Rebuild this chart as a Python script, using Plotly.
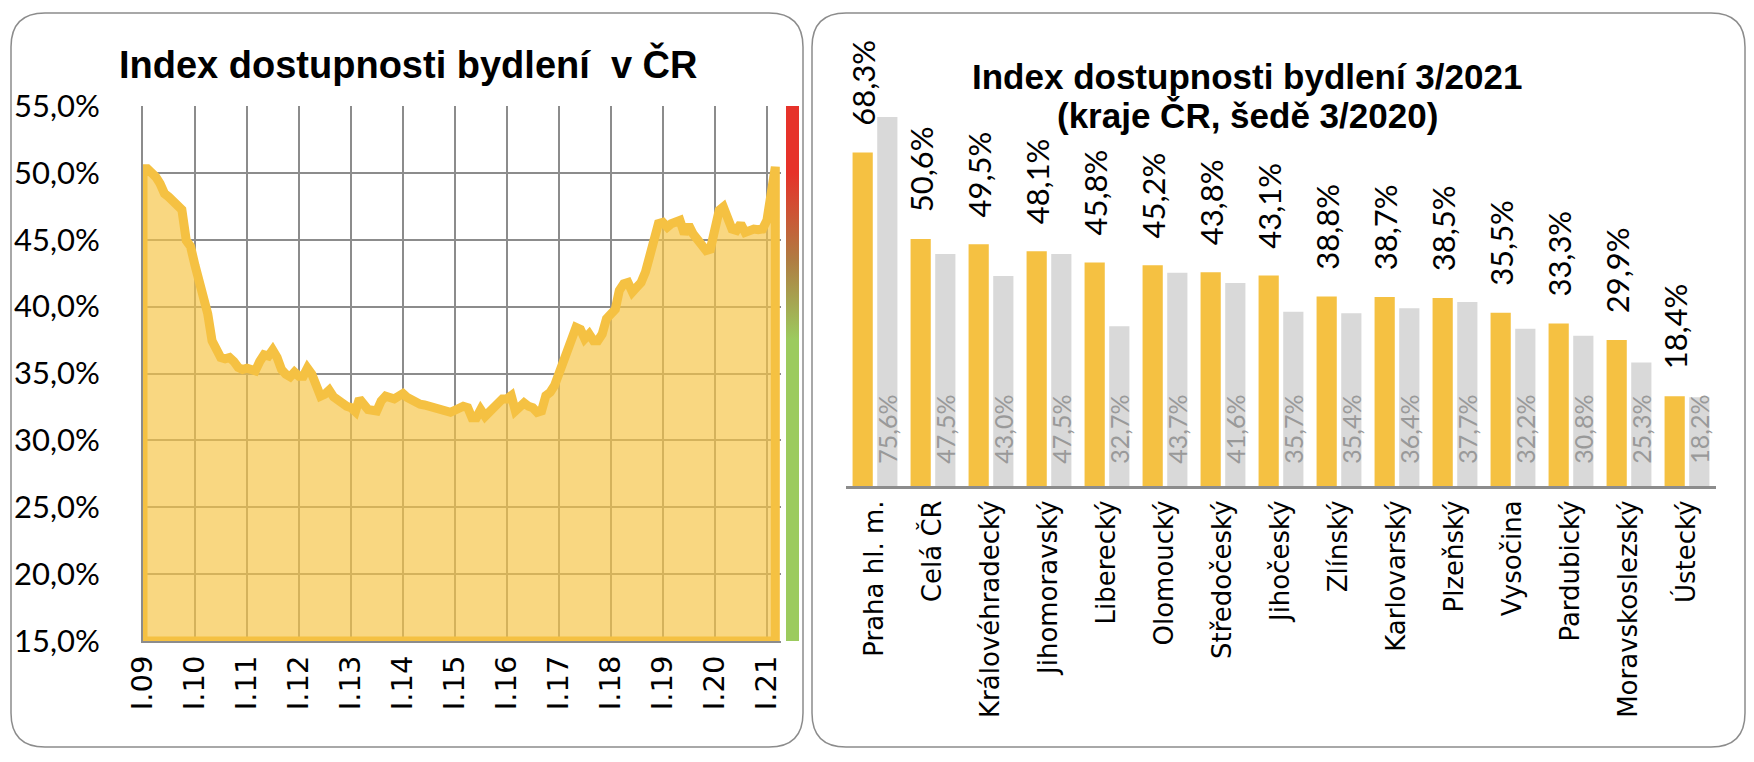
import pandas as pd
import plotly.graph_objects as go

# --- left chart: monthly housing affordability index, I.2009 - III.2021 (%)
START_MONTH = "2009-01-01"
INDEX_VALUES = [
    50.3, 50.3, 50.1, 49.7, 49.2, 48.45, 48.2, 47.8, 47.45, 47.25, 44.95, 44.5,   # 2009
    43.1, 41.7, 41.15, 39.45, 37.45, 36.6, 36.2, 36.1, 36.2, 35.9, 35.45, 35.3,   # 2010
    35.4, 35.3, 35.2, 35.9, 36.4, 36.3, 36.75, 36.2, 35.3, 34.95, 34.75, 35.1,    # 2011
    34.8, 34.8, 35.4, 34.95, 34.2, 33.3, 33.45, 33.75, 33.25, 32.95, 32.8, 32.55, # 2012
    32.45, 32.15, 33.1, 32.55, 32.3, 32.25, 32.2, 32.95, 33.3, 33.2, 33.1, 33.3,  # 2013
    33.5, 33.2, 33.0, 32.8, 32.7, 32.65, 32.55, 32.45, 32.5, 32.4, 32.25, 32.1,   # 2014
    32.25, 32.45, 32.55, 32.45, 31.7, 31.7, 32.3, 31.8, 32.1, 32.3, 32.7, 33.1,   # 2015
    33.1, 33.35, 32.2, 32.45, 32.8, 32.55, 32.45, 32.1, 32.2, 33.35, 33.6, 34.1,  # 2016
    34.95, 35.7, 36.6, 37.6, 38.45, 38.3, 37.6, 37.95, 37.45, 37.45, 37.95, 39.1, # 2017
    39.6, 39.8, 41.2, 41.7, 41.8, 41.1, 41.45, 41.8, 42.6, 43.95, 45.2, 46.2,     # 2018
    46.3, 45.95, 46.2, 46.3, 46.45, 45.45, 46.1, 45.45, 44.95, 44.6, 44.2, 44.3,  # 2019
    45.7, 47.2, 47.45, 46.8, 45.8, 45.7, 46.2, 45.55, 45.7, 45.8, 45.75, 45.8,    # 2020
    46.45, 48.45, 50.45,                                                          # 2021
]
YEAR_LABELS = ["I.09", "I.10", "I.11", "I.12", "I.13", "I.14", "I.15",
               "I.16", "I.17", "I.18", "I.19", "I.20", "I.21"]
Y_MIN, Y_MAX = 15, 55

# colour strip next to the left chart (green = affordable, red = not)
GRADIENT_VALUES = [15, 37.5, 43.5, 50, 55]
GRADIENT_COLORS = ["#9ccb5e", "#9ccb5e", "#b07c42", "#e6322a", "#e6322a"]

# --- right chart: regions 3/2021 vs 3/2020 (%)
REGIONS = ["Praha hl. m.", "Celá ČR", "Královéhradecký", "Jihomoravský", "Liberecký",
           "Olomoucký", "Středočeský", "Jihočeský", "Zlínský", "Karlovarský",
           "Plzeňský", "Vysočina", "Pardubický", "Moravskoslezský", "Ústecký"]
VALUES_2021 = [68.3, 50.6, 49.5, 48.1, 45.8, 45.2, 43.8, 43.1, 38.8, 38.7,
               38.5, 35.5, 33.3, 29.9, 18.4]
VALUES_2020 = [75.6, 47.5, 43.0, 47.5, 32.7, 43.7, 41.6, 35.7, 35.4, 36.4,
               37.7, 32.2, 30.8, 25.3, 18.2]

W, H = 1754, 762
PAGE_MARGIN = 8  # default body margin of the html page
ORANGE = "#f5c142"
GRID = "#8c8c8c"
TITLE_FONT = "Liberation Sans, Arial, sans-serif"
CALIBRI_LIKE = "Lato, Open Sans, sans-serif"
NBSP = "\u00a0"


def px_x(p):
    return (p - PAGE_MARGIN) / W


def px_y(p):
    return 1 - (p - PAGE_MARGIN) / H


def rounded_rect(x0, y0, x1, y1, r):
    """SVG path of a rounded rectangle in paper coordinates (input in pixels)."""
    rx, ry = r / W, r / H
    a, b, c, d = px_x(x0), px_x(x1), px_y(y1), px_y(y0)
    return (f"M {a + rx},{d} L {b - rx},{d} Q {b},{d} {b},{d - ry} "
            f"L {b},{c + ry} Q {b},{c} {b - rx},{c} L {a + rx},{c} "
            f"Q {a},{c} {a},{c + ry} L {a},{d - ry} Q {a},{d} {a + rx},{d} Z")


dates = pd.date_range(START_MONTH, periods=len(INDEX_VALUES), freq="MS")
year_ticks = pd.date_range(START_MONTH, periods=len(YEAR_LABELS), freq="YS")

# closed outline so the border runs down to the axis minimum like the Excel area
area_x = [dates[0], *dates, dates[-1], dates[0]]
area_y = [Y_MIN, *INDEX_VALUES, Y_MIN, Y_MIN]

fig = go.Figure()

fig.add_trace(go.Scatter(
    x=area_x, y=area_y, mode="lines", fill="toself",
    fillcolor="rgba(246,196,70,0.68)",
    line=dict(color=ORANGE, width=9),
    hoverinfo="skip", showlegend=False,
))

scale = [[(v - Y_MIN) / (Y_MAX - Y_MIN), c] for v, c in zip(GRADIENT_VALUES, GRADIENT_COLORS)]
fig.add_trace(go.Scatter(
    x=[None], y=[None], mode="markers", showlegend=False, hoverinfo="skip",
    marker=dict(
        color=[Y_MIN], cmin=Y_MIN, cmax=Y_MAX, colorscale=scale, showscale=True,
        colorbar=dict(
            x=px_x(786), xanchor="left", xpad=0, thickness=13, thicknessmode="pixels",
            y=(px_y(106) + px_y(641)) / 2, yanchor="middle", ypad=0,
            len=535, lenmode="pixels", outlinewidth=0,
            showticklabels=False, ticks="",
        ),
    ),
))

fig.add_trace(go.Bar(
    x=REGIONS, y=VALUES_2021, xaxis="x2", yaxis="y2", name="3/2021",
    marker=dict(color=ORANGE, line=dict(width=0)),
    texttemplate=NBSP * 3 + "%{y:.1f}%", textposition="outside", textangle=-90,
    outsidetextfont=dict(family=CALIBRI_LIKE, size=31, color="black"),
    constraintext="none", cliponaxis=False, showlegend=False,
))
fig.add_trace(go.Bar(
    x=REGIONS, y=VALUES_2020, xaxis="x2", yaxis="y2", name="3/2020",
    marker=dict(color="#d9d9d9", line=dict(width=0)),
    texttemplate=NBSP * 3 + "%{y:.1f}%", textposition="inside", textangle=-90,
    insidetextanchor="start",
    insidetextfont=dict(family=CALIBRI_LIKE, size=25, color="#999999"),
    constraintext="none", cliponaxis=False, showlegend=False,
))

fig.update_layout(
    width=W, height=H,
    margin=dict(l=0, r=0, t=0, b=0, autoexpand=False),
    paper_bgcolor="white", plot_bgcolor="white",
    separators=", ",
    barmode="group", bargap=0.15, bargroupgap=0.18,
    xaxis=dict(
        type="date", domain=[px_x(143), px_x(781)],
        range=["2009-01-01", "2021-04-10"],
        tickvals=year_ticks, ticktext=YEAR_LABELS, tickangle=-90,
        tickfont=dict(family="DejaVu Sans", size=29, color="black"),
        ticks="", ticklabelstandoff=1,
        showgrid=True, gridcolor=GRID, gridwidth=2,
        showline=True, linecolor=GRID, linewidth=2, zeroline=False,
    ),
    yaxis=dict(
        domain=[px_y(641), px_y(106)], range=[Y_MIN, Y_MAX], dtick=5,
        tickformat=".1f", ticksuffix="%",
        tickfont=dict(family=CALIBRI_LIKE, size=31, color="black"),
        ticks="", ticklabelstandoff=35,
        showgrid=True, gridcolor=GRID, gridwidth=2,
        showline=True, linecolor=GRID, linewidth=2, zeroline=False,
    ),
    xaxis2=dict(
        domain=[px_x(846), px_x(1716)], anchor="y2",
        tickangle=-90, ticks="", ticklabelstandoff=1,
        tickfont=dict(family="DejaVu Sans", size=26, color="black"),
        showgrid=False, showline=True, linecolor=GRID, linewidth=3,
    ),
    yaxis2=dict(
        domain=[px_y(486), px_y(46.6)], range=[0, 90], anchor="x2",
        visible=False,
    ),
    shapes=[
        dict(type="path", xref="paper", yref="paper", layer="below",
             path=rounded_rect(11, 13, 803, 747, 34),
             line=dict(color=GRID, width=1.5)),
        dict(type="path", xref="paper", yref="paper", layer="below",
             path=rounded_rect(812, 13, 1745, 747, 34),
             line=dict(color=GRID, width=1.5)),
    ],
    annotations=[
        dict(text="Index dostupnosti bydlení" + NBSP + " v ČR", x=px_x(408), y=px_y(64),
             xref="paper", yref="paper", xanchor="center", yanchor="middle",
             showarrow=False,
             font=dict(family=TITLE_FONT, size=38, color="black", weight="bold")),
        dict(text="Index dostupnosti bydlení 3/2021", x=px_x(1247), y=px_y(76),
             xref="paper", yref="paper", xanchor="center", yanchor="middle",
             showarrow=False,
             font=dict(family=TITLE_FONT, size=35, color="black", weight="bold")),
        dict(text="(kraje ČR, šedě 3/2020)", x=px_x(1247), y=px_y(115),
             xref="paper", yref="paper", xanchor="center", yanchor="middle",
             showarrow=False,
             font=dict(family=TITLE_FONT, size=35, color="black", weight="bold")),
    ],
)

fig.write_html("out.html")
